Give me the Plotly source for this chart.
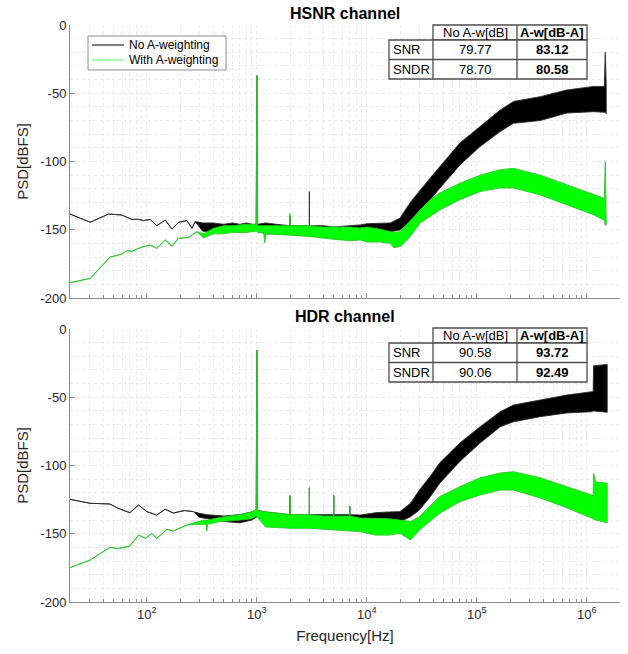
import math
import plotly.graph_objects as go

# ---------------- data ----------------
# HSNR channel, no A-weighting (upper / lower envelope of the PSD trace, dBFS)
hsnr_noaw_f = [20, 30.6, 44.8, 59, 73, 84, 93, 107, 123, 147, 169, 194, 231, 257, 275,
               320, 400, 500, 600, 700, 800, 900, 985, 1000, 1015, 1200, 1500, 1990, 2000, 2010,
               2500, 2995, 3000, 3005, 4000, 5000, 7000, 8700, 10000, 13000, 16300, 20000, 24800,
               30500, 37600, 46000, 70000, 107000, 163000, 215000, 377000, 657000, 1150000,
               1440000, 1470000, 1500000]
hsnr_noaw_hi = [-138.5, -144.5, -138.5, -139.2, -142.4, -142.4, -143.3, -142.4, -147, -142.9, -149.5,
                -144.5, -143.3, -148.9, -144,
                -145, -145, -146, -145, -146, -145, -146, -146, -37, -146, -145, -146, -147, -140, -147,
                -147, -147, -122, -147, -147, -148, -147, -146.5, -145.6, -145, -145, -141.5, -130,
                -121, -112, -103.8, -86.5, -74.5, -62.3, -56, -52.5, -47.6, -45,
                -45, -20, -46]
hsnr_noaw_lo = [-138.5, -144.5, -138.5, -139.2, -142.4, -142.4, -143.3, -142.4, -147, -142.9, -149.5,
                -144.5, -143.3, -148.9, -144,
                -151, -152, -152, -151, -152, -151, -151, -150, -150, -151, -153, -153, -153, -153, -153,
                -154, -154, -154, -154, -155, -156, -154, -151.4, -152, -151.5, -151.4, -150.2, -144,
                -135.5, -128, -119.6, -102.6, -89, -78, -72, -70, -64.5, -63.5,
                -64, -64, -65]

# HSNR channel, with A-weighting
hsnr_aw_f = [20, 30.6, 46, 59, 66, 73, 87, 107, 123, 147, 169, 194, 239, 285,
             327, 400, 500, 600, 800, 985, 1000, 1015, 1150, 1180, 1210, 1990, 2000, 2010, 3000,
             4000, 5000, 7000, 8700, 10000, 13000, 16300, 17500, 20000, 24800, 30500, 37600, 46000,
             70000, 107000, 163000, 215000, 377000, 657000, 1150000, 1440000, 1470000, 1500000]
hsnr_aw_hi = [-188.8, -185.6, -170.2, -167.8, -165.3, -165.8, -163.1, -161.2, -163.6, -157.5, -161.9,
              -156.3, -155.6, -151.4,
              -153, -149, -147, -147, -146, -146, -37, -147, -147, -147, -147, -147, -138, -147, -147,
              -148, -148, -148, -148.7, -148, -149.5, -151.4, -152, -151.4, -142.9, -135.5, -128, -123,
              -116, -110, -106, -105, -110, -117, -124.5, -127, -100, -127]
hsnr_aw_lo = [-188.8, -185.6, -170.2, -167.8, -165.3, -165.8, -163.1, -161.2, -163.6, -157.5, -161.9,
              -156.3, -155.6, -151.4,
              -156, -153, -153, -152, -152, -151, -151, -152, -152, -159.5, -153, -154, -154, -154, -155,
              -156, -157, -158, -157.5, -159, -159, -160, -163, -162.4, -155, -145, -140, -135.5,
              -128, -122, -119.4, -119.4, -124.5, -132, -139, -143, -147, -146]

# HDR channel, no A-weighting
hdr_noaw_f = [20, 30.6, 46, 55, 70, 84, 100, 123, 147, 174, 220, 265,
              300, 351, 500, 700, 900, 985, 1000, 1015, 1200, 1500, 1990, 2000, 2010, 2995, 3000,
              3005, 4000, 4990, 5000, 5010, 6990, 7000, 7010, 8700, 12000, 16000, 20000, 25000,
              30000, 37600, 46000, 70000, 107000, 163000, 215000, 377000, 657000, 1100000,
              1140000, 1150000, 1530000]
hdr_noaw_hi = [-124.8, -127.7, -128.2, -131.4, -134.6, -129, -133.8, -136.3, -132.1, -134.8, -133, -133.8,
               -135, -136, -137, -136, -134, -133, -15.4, -133, -134, -135, -136, -122, -136, -136, -116.3,
               -136, -136, -136, -122, -136, -136, -129.7, -136, -136.3, -134.6, -134, -133.8, -127.5,
               -118, -108, -98, -83.5, -71.6, -60.6, -55.7, -52, -48.4, -46,
               -46, -27, -26]
hdr_noaw_lo = [-124.8, -127.7, -128.2, -131.4, -134.6, -129, -133.8, -136.3, -132.1, -134.8, -133, -133.8,
               -138, -139, -141, -142, -140, -138, -138, -137, -143, -144, -145, -145, -145, -145, -145,
               -145, -146, -146, -146, -146, -145, -145, -145, -142.4, -142.4, -142, -141.2, -137.5,
               -132.6, -123, -113, -97, -83.5, -71.6, -68, -64.2, -61.5, -60.6,
               -60, -60, -61]

# HDR channel, with A-weighting
hdr_aw_f = [20, 30.6, 46, 55, 70, 84, 97, 111, 123, 152, 174, 231,
            327, 345, 351, 357, 464, 705, 900, 985, 1000, 1015, 1200, 1990, 2000, 2010, 2995,
            3000, 3005, 4000, 4990, 5000, 5010, 6990, 7000, 7010, 8700, 12000, 16000, 20000,
            25000, 30000, 37600, 46000, 70000, 107000, 163000, 215000, 377000, 657000,
            1100000, 1140000, 1150000, 1200000, 1530000]
hdr_aw_hi = [-174.8, -169.2, -160, -160.8, -159, -151, -153.4, -149.7, -153.4, -146.8, -148, -143.6,
             -140, -140, -140, -140, -138, -136, -134, -132, -15.4, -133, -134, -136, -122, -136, -136,
             -116.3, -136, -137, -137, -122, -137, -137, -129.7, -137, -138.5, -138.5, -139, -140,
             -141, -137.5, -130, -122.8, -115.5, -109, -105.5, -104.5, -109, -115.5,
             -121.6, -122, -105.7, -112, -113]
hdr_aw_lo = [-174.8, -169.2, -160, -160.8, -159, -151, -153.4, -149.7, -153.4, -146.8, -148, -143.6,
             -143, -143, -148, -143, -141, -140, -139, -137, -137, -138, -145, -146, -146, -146, -146,
             -146, -146, -147, -147, -147, -147, -148, -148, -148, -148.5, -151, -151, -149.7,
             -154.6, -147.3, -141, -135, -126.5, -121.6, -118, -118, -123.8, -131,
             -138.5, -139, -139, -140, -142]

# table values
table_rows = ["SNR", "SNDR"]
table_cols = ["No A-w[dB]", "A-w[dB-A]"]
hsnr_noaw_vals = ["79.77", "78.70"]
hsnr_aw_vals = ["83.12", "80.58"]
hdr_noaw_vals = ["90.58", "90.06"]
hdr_aw_vals = ["93.72", "92.49"]
legend_names = ["No A-weighting", "With A-weighting"]

x_ticks = [1e2, 1e3, 1e4, 1e5, 1e6]
x_ticktext = ["10<sup>2</sup>", "10<sup>3</sup>", "10<sup>4</sup>", "10<sup>5</sup>", "10<sup>6</sup>"]
y_ticks = [-200, -150, -100, -50, 0]
y_ticktext = ["-200", "-150", "-100", "-50", "0"]

# ---------------- layout helpers ----------------
W, H = 628, 654
ML, MR, MT, MB = 70, 8, 25, 52
PW, PH = W - ML - MR, H - MT - MB


def px(xp):
    return (xp - ML) / PW


def py(yp):
    return (H - MB - yp) / PH


FONT = "Liberation Sans, Arial, Helvetica, sans-serif"
TXT = "#262626"
BLACK_FILL = "rgb(0,0,0)"
BLACK_EDGE = "rgb(45,45,45)"
GREEN_FILL = "rgb(0,255,0)"
GREEN_EDGE = "rgb(40,200,40)"
GRID = "#e9e9e9"

fig = go.Figure()


def band(f, hi, lo, fill, edge, xa, ya):
    fig.add_trace(go.Scatter(
        x=list(f) + list(f)[::-1], y=list(hi) + list(lo)[::-1],
        mode="lines", fill="toself", fillcolor=fill,
        line=dict(color=edge, width=0.9), showlegend=False,
        xaxis=xa, yaxis=ya, hoverinfo="skip"))


band(hsnr_noaw_f, hsnr_noaw_hi, hsnr_noaw_lo, BLACK_FILL, BLACK_EDGE, "x", "y")
band(hsnr_aw_f, hsnr_aw_hi, hsnr_aw_lo, GREEN_FILL, GREEN_EDGE, "x", "y")
band(hdr_noaw_f, hdr_noaw_hi, hdr_noaw_lo, BLACK_FILL, BLACK_EDGE, "x2", "y2")
band(hdr_aw_f, hdr_aw_hi, hdr_aw_lo, GREEN_FILL, GREEN_EDGE, "x2", "y2")

xr = [math.log10(20), math.log10(2e6)]
axis_common = dict(showline=True, linecolor="#8c8c8c", linewidth=1, mirror=False,
                   ticks="inside", ticklen=5, tickcolor="#8c8c8c",
                   showgrid=True, gridcolor=GRID, gridwidth=1, griddash="dot", zeroline=False,
                   tickfont=dict(family=FONT, size=13, color=TXT))
xaxis_common = dict(type="log", range=xr, tickmode="array", tickvals=x_ticks, ticktext=x_ticktext,
                    minor=dict(dtick="D1", ticks="inside", ticklen=3, tickcolor="#8c8c8c",
                               showgrid=True, gridcolor=GRID, griddash="dot", gridwidth=1),
                    **axis_common)
yaxis_common = dict(range=[-200, 0], tickmode="array", tickvals=y_ticks, ticktext=y_ticktext,
                    minor=dict(dtick=10, ticks="", showgrid=True, gridcolor=GRID,
                               griddash="dot", gridwidth=1),
                    title=dict(text="PSD[dBFS]", font=dict(family=FONT, size=15, color=TXT), standoff=8),
                    **axis_common)

top_dom = [py(298), py(25)]
bot_dom = [py(602), py(329)]

fig.update_layout(
    width=W, height=H,
    margin=dict(l=ML, r=MR, t=MT, b=MB),
    paper_bgcolor="white", plot_bgcolor="white",
    font=dict(family=FONT, color=TXT),
    xaxis=dict(domain=[0, 1], anchor="y", showticklabels=False, **xaxis_common),
    yaxis=dict(domain=top_dom, anchor="x", **yaxis_common),
    xaxis2=dict(domain=[0, 1], anchor="y2", showticklabels=True,
                title=dict(text="Frequency[Hz]", font=dict(family=FONT, size=15, color=TXT), standoff=9),
                **xaxis_common),
    yaxis2=dict(domain=bot_dom, anchor="x2", **yaxis_common),
    showlegend=False,
)

annotations = [
    dict(text="<b>HSNR channel</b>", x=0.5, y=py(14), xref="paper", yref="paper",
         showarrow=False, xanchor="center", yanchor="middle",
         font=dict(family=FONT, size=16, color="black")),
    dict(text="<b>HDR channel</b>", x=0.5, y=py(316), xref="paper", yref="paper",
         showarrow=False, xanchor="center", yanchor="middle",
         font=dict(family=FONT, size=16, color="black")),
]
shapes = []

# legend box (drawn by hand to match the compact MATLAB legend)
shapes.append(dict(type="rect", xref="paper", yref="paper", x0=px(88), x1=px(226),
                   y0=py(70), y1=py(36), fillcolor="white",
                   line=dict(color="#8c8c8c", width=1), layer="above"))
legend_colors = ["rgb(0,0,0)", "rgb(90,255,90)"]
for i, (name, col) in enumerate(zip(legend_names, legend_colors)):
    yc = 45 + 15 * i
    shapes.append(dict(type="line", xref="paper", yref="paper", x0=px(92), x1=px(124),
                       y0=py(yc), y1=py(yc), line=dict(color=col, width=1), layer="above"))
    annotations.append(dict(text=name, x=px(127), y=py(yc), xref="paper", yref="paper",
                            showarrow=False, xanchor="left", yanchor="middle",
                            font=dict(family=FONT, size=12, color="black")))


def add_table(top, noaw_vals, aw_vals):
    c0, c1, c2, c3 = 389, 433, 517, 587
    r0, r1, r2, r3 = top, top + 15, top + 34.5, top + 54
    lc = dict(color="#4d4d4d", width=1.3)
    shapes.append(dict(type="rect", xref="paper", yref="paper", x0=px(c1), x1=px(c3),
                       y0=py(r1), y1=py(r0), fillcolor="white", line=lc, layer="above"))
    shapes.append(dict(type="rect", xref="paper", yref="paper", x0=px(c0), x1=px(c3),
                       y0=py(r3), y1=py(r1), fillcolor="white", line=lc, layer="above"))
    shapes.append(dict(type="line", xref="paper", yref="paper", x0=px(c1), x1=px(c1),
                       y0=py(r3), y1=py(r1), line=lc, layer="above"))
    shapes.append(dict(type="line", xref="paper", yref="paper", x0=px(c2), x1=px(c2),
                       y0=py(r3), y1=py(r0), line=lc, layer="above"))
    shapes.append(dict(type="line", xref="paper", yref="paper", x0=px(c0), x1=px(c3),
                       y0=py(r2), y1=py(r2), line=lc, layer="above"))
    fnt = dict(family=FONT, size=13, color="black")
    annotations.append(dict(text=table_cols[0], x=px((c1 + c2) / 2), y=py((r0 + r1) / 2),
                            xref="paper", yref="paper", showarrow=False, xanchor="center",
                            yanchor="middle", font=fnt))
    annotations.append(dict(text="<b>" + table_cols[1] + "</b>", x=px((c2 + c3) / 2), y=py((r0 + r1) / 2),
                            xref="paper", yref="paper", showarrow=False, xanchor="center",
                            yanchor="middle", font=fnt))
    rows = [(r1, r2), (r2, r3)]
    for i, (ra, rb) in enumerate(rows):
        yc = py((ra + rb) / 2)
        annotations.append(dict(text=table_rows[i], x=px(c0 + 2), y=yc, xref="paper", yref="paper",
                                showarrow=False, xanchor="left", yanchor="middle", font=fnt))
        annotations.append(dict(text=noaw_vals[i], x=px((c1 + c2) / 2), y=yc, xref="paper",
                                yref="paper", showarrow=False, xanchor="center", yanchor="middle",
                                font=fnt))
        annotations.append(dict(text="<b>" + aw_vals[i] + "</b>", x=px((c2 + c3) / 2), y=yc,
                                xref="paper", yref="paper", showarrow=False, xanchor="center",
                                yanchor="middle", font=fnt))


add_table(25, hsnr_noaw_vals, hsnr_aw_vals)
add_table(328, hdr_noaw_vals, hdr_aw_vals)

fig.update_layout(annotations=annotations, shapes=shapes)
fig.write_html("out.html")
